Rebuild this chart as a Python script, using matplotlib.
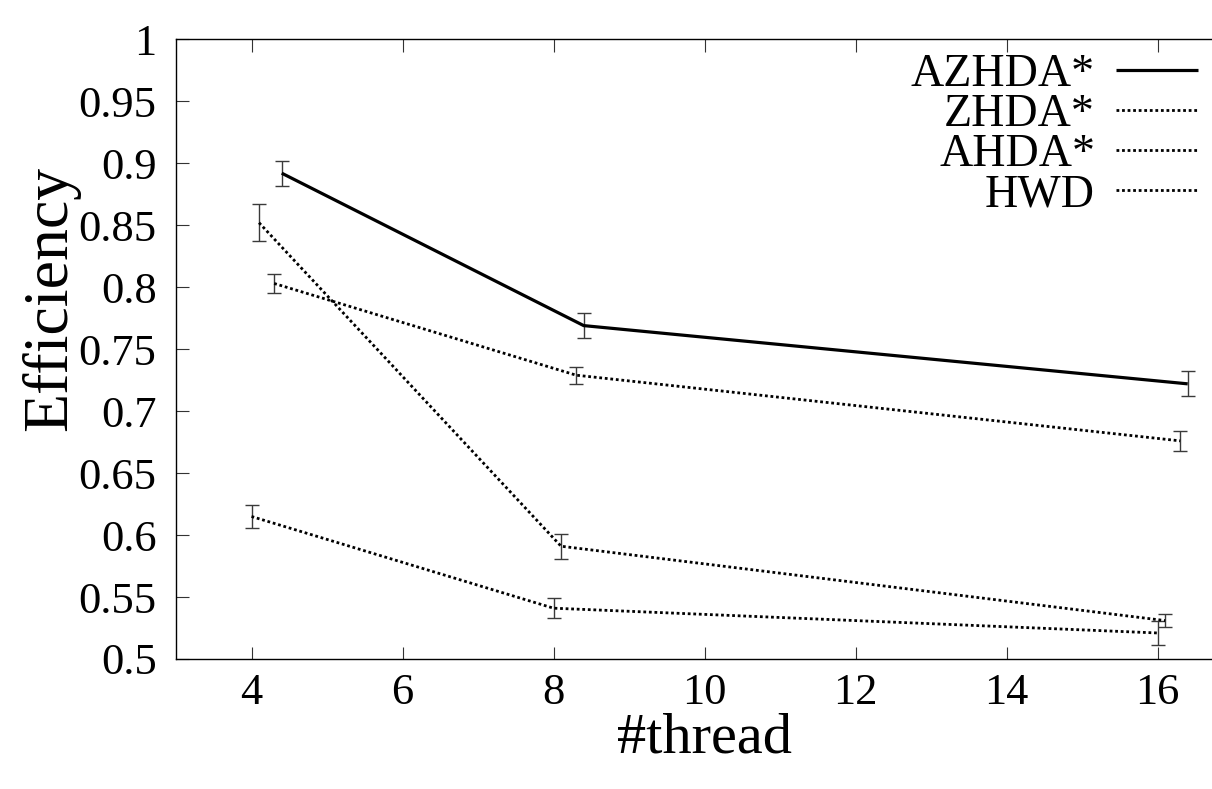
import matplotlib
matplotlib.use("Agg")
import matplotlib.pyplot as plt
import numpy as np

threads = [4, 8, 16]
series_names = ["AZHDA*", "ZHDA*", "AHDA*", "HWD"]
x_offsets = [0.4, 0.3, 0.1, 0.0]
azhda = [0.892, 0.769, 0.722]
azhda_err = [0.010, 0.010, 0.010]
zhda = [0.803, 0.729, 0.676]
zhda_err = [0.008, 0.007, 0.008]
ahda = [0.852, 0.591, 0.531]
ahda_err = [0.015, 0.010, 0.005]
hwd = [0.615, 0.541, 0.521]
hwd_err = [0.009, 0.008, 0.010]
x_ticks = [4, 6, 8, 10, 12, 14, 16]
y_ticks = [0.5, 0.55, 0.6, 0.65, 0.7, 0.75, 0.8, 0.85, 0.9, 0.95, 1.0]
y_ticklabels = ["0.5", "0.55", "0.6", "0.65", "0.7", "0.75", "0.8", "0.85", "0.9", "0.95", "1"]

plt.rcParams['font.family'] = ['Liberation Serif', 'DejaVu Serif']

W, H = 1212, 789
AX_L, AX_R, AX_T, AX_B = 176, 1233, 39.3, 659
fig = plt.figure(figsize=(W / 100, H / 100), dpi=100)
ax = fig.add_axes([AX_L / W, 1 - AX_B / H, (AX_R - AX_L) / W, (AX_B - AX_T) / H])

values = [azhda, zhda, ahda, hwd]
errs = [azhda_err, zhda_err, ahda_err, hwd_err]
styles = ['-', (0, (1, 1)), (0, (1, 1)), (0, (1, 1))]
widths = [2.3, 2.0, 2.0, 2.0]

for name, v, e, off, ls, lw in zip(series_names, values, errs, x_offsets, styles, widths):
    xs = np.array(threads, dtype=float) + off
    ax.errorbar(xs, v, yerr=e, fmt='none', ecolor='#3a3a3a', elinewidth=1.0,
                capsize=4.8, capthick=1.0, zorder=2)
    ax.plot(xs, v, color='black', linestyle=ls, linewidth=lw,
            solid_capstyle='butt', dash_capstyle='butt', zorder=3)

ax.set_xlim(3, 17)
ax.set_ylim(0.5, 1.0)
ax.set_xticks(x_ticks)
ax.set_yticks(y_ticks)
ax.set_yticklabels(y_ticklabels)
ax.tick_params(axis='both', direction='in', length=9, width=0.8, labelsize=32, color='#333333')
ax.tick_params(axis='x', top=True, pad=10)
ax.tick_params(axis='y', right=False, pad=14)
ax.spines['right'].set_visible(False)
for s in ['left', 'bottom', 'top']:
    ax.spines[s].set_linewidth(1.0)

ax.set_xlabel('#thread', fontsize=42, labelpad=0)
ax.set_ylabel('Efficiency', fontsize=46, va='center', ha='center')
ax.yaxis.set_label_coords((51 - AX_L) / (AX_R - AX_L), 1 - (298 - AX_T) / (AX_B - AX_T))

# legend (gnuplot style: right-aligned labels, sample to the right)
row_y = [70, 110, 150, 190]
for name, ls, lw, ry in zip(series_names, styles, widths, row_y):
    yf = 1 - (ry - AX_T) / (AX_B - AX_T)
    x0 = (1116 - AX_L) / (AX_R - AX_L)
    x1 = (1198 - AX_L) / (AX_R - AX_L)
    xt = (1095 - AX_L) / (AX_R - AX_L)
    ax.plot([x0, x1], [yf, yf], transform=ax.transAxes, color='black', linestyle=ls,
            linewidth=lw, solid_capstyle='butt', dash_capstyle='butt', clip_on=False)
    ax.text(xt, yf, name, transform=ax.transAxes, ha='right', va='center_baseline',
            fontsize=33)

fig.savefig('out.png', dpi=100)
